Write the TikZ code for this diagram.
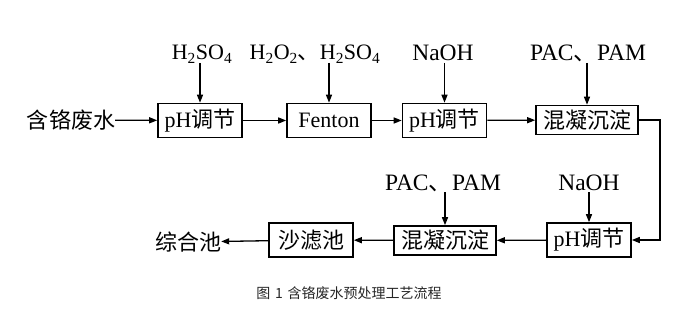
\documentclass[tikz,border=0pt]{standalone}
\usepackage{fontspec}
\setmainfont{Liberation Serif}
\newfontfamily\cjk{Noto Sans CJK SC}
\usetikzlibrary{arrows.meta}
\tikzset{
  procbox/.style={draw, line width=1.6pt, inner sep=0pt, minimum width=84pt, minimum height=34pt, font=\fontsize{22}{22}\selectfont},
  widebox/.style={procbox, minimum width=102pt, minimum height=29pt},
  plain/.style={inner sep=0pt, font=\fontsize{22}{22}\selectfont},
  chem/.style={inner sep=0pt, anchor=base, font=\fontsize{22}{22}\selectfont},
  bigchem/.style={chem, font=\fontsize{23.5}{23.5}\selectfont},
  arr/.style={line width=1.3pt, -{Triangle[length=8pt,width=6pt]}},
}
\begin{document}
\begin{tikzpicture}[x=1pt,y=-1pt]
\useasboundingbox (0,0) rectangle (698,323);
% row 1
\node[plain] (src) at (71,120) {\cjk 含铬废水};
\node[procbox] (b1) at (200,120.5) {pH\cjk 调节};
\node[procbox] (b2) at (329,120.5) {Fenton};
\node[procbox] (b3) at (444.5,120.5) {pH\cjk 调节};
\node[widebox] (b4) at (587,120) {\cjk 混凝沉淀};
% row 2
\node[procbox] (c1) at (589,240) {pH\cjk 调节};
\node[widebox] (c2) at (445,240.5) {\cjk 混凝沉淀};
\node[procbox] (c3) at (311,240) {\cjk 沙滤池};
\node[plain] (dst) at (188,242) {\cjk 综合池};
% reagent labels
\node[chem] (l1) at (202,60) {H\textsubscript{2}SO\textsubscript{4}};
\node[chem] (l2) at (315,60) {H\textsubscript{2}O\textsubscript{2}{\cjk 、}H\textsubscript{2}SO\textsubscript{4}};
\node[bigchem] (l3) at (443,61) {NaOH};
\node[bigchem] (l4) at (588,61) {PAC{\cjk 、}PAM};
\node[bigchem] (l5) at (443,190) {PAC{\cjk 、}PAM};
\node[bigchem] (l6) at (589,190) {NaOH};
% caption
\node[inner sep=0pt, text=black!85, font=\cjk\fontsize{14}{14}\selectfont] (cap) at (349,293) {图\,\,1\,\,含铬废水预处理工艺流程};
% flow arrows
\draw[arr] (src) -- (b1);
\draw[arr] (b1) -- (b2);
\draw[arr] (b2) -- (b3);
\draw[arr] (b3) -- (b4);
\coordinate (turn) at (660,120);
\draw[arr] (b4.east) -- (b4.east -| turn) -- (turn |- c1.east) -- (c1.east);
\draw[arr] (c1) -- (c2);
\draw[arr] (c2) -- (c3);
\draw[arr] (c3) -- (dst);
% reagent arrows
\draw[arr] ([yshift=-3pt]l1.base -| b1.north) -- (b1.north);
\draw[arr] ([yshift=-3pt]l2.base -| b2.north) -- (b2.north);
\draw[arr] ([yshift=-2pt]l3.base -| b3.north) -- (b3.north);
\draw[arr] ([yshift=-2pt]l4.base -| b4.north) -- (b4.north);
\draw[arr] ([yshift=-2pt]l5.base -| c2.north) -- (c2.north);
\draw[arr] ([yshift=-2pt]l6.base -| c1.north) -- (c1.north);
\end{tikzpicture}
\end{document}
